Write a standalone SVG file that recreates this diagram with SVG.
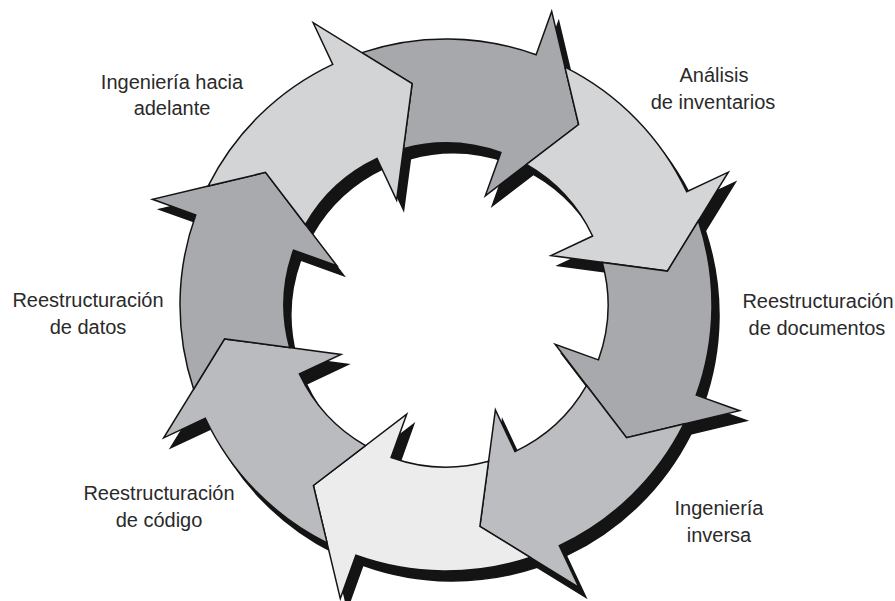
<svg xmlns="http://www.w3.org/2000/svg" width="895" height="601" viewBox="0 0 895 601">
<style>
.lbl{font-family:"Liberation Sans",Arial,sans-serif;font-size:20px;fill:#2a2a2a;text-anchor:middle}
.arr{stroke:#141414;stroke-width:1.5;stroke-linejoin:miter}
.shd{fill:#141414;stroke:#141414;stroke-width:1.5}
</style>
<defs>
<path id="arrow" d="M153.56,-217.2 A266,266 0 0 1 255.05,-75.55 L299.15,-88.61 L224,0 L111.22,-32.95 L155.33,-46.01 A162,162 0 0 0 100.79,-126.83 L158.39,-158.39 Z"/>
</defs>
<rect width="895" height="601" fill="#ffffff"/>
<g id="shadows" class="shd">
<use href="#arrow" transform="translate(453,315) rotate(-53.7)"/>
<use href="#arrow" transform="translate(453,315) rotate(-8.7)"/>
<use href="#arrow" transform="translate(453,315) rotate(36.3)"/>
<use href="#arrow" transform="translate(453,315) rotate(81.3)"/>
<use href="#arrow" transform="translate(453,315) rotate(126.3)"/>
<use href="#arrow" transform="translate(453,315) rotate(171.3)"/>
<use href="#arrow" transform="translate(453,315) rotate(216.3)"/>
<use href="#arrow" transform="translate(453,315) rotate(261.3)"/>
</g>
<g id="connectors">
<g id="arrow-analisis"><use href="#arrow" class="arr" fill="#a7a8ab" transform="translate(446,305) rotate(-53.7)"/></g>
<g id="arrow-doc-in"><use href="#arrow" class="arr" fill="#d4d5d7" transform="translate(446,305) rotate(-8.7)"/></g>
<g id="arrow-doc-out"><use href="#arrow" class="arr" fill="#a8a9ac" transform="translate(446,305) rotate(36.3)"/></g>
<g id="arrow-inversa"><use href="#arrow" class="arr" fill="#bcbdc0" transform="translate(446,305) rotate(81.3)"/></g>
<g id="arrow-codigo-in"><use href="#arrow" class="arr" fill="#ececec" transform="translate(446,305) rotate(126.3)"/></g>
<g id="arrow-codigo-out"><use href="#arrow" class="arr" fill="#babbbe" transform="translate(446,305) rotate(171.3)"/></g>
<g id="arrow-datos"><use href="#arrow" class="arr" fill="#a9aaad" transform="translate(446,305) rotate(216.3)"/></g>
<g id="arrow-adelante"><use href="#arrow" class="arr" fill="#d3d4d6" transform="translate(446,305) rotate(261.3)"/></g>
</g>
<g id="node-adelante" class="lbl"><text x="172" y="89">Ingeniería hacia</text><text x="172" y="115">adelante</text></g>
<g id="node-analisis" class="lbl"><text x="714" y="82">Análisis</text><text x="713" y="109">de inventarios</text></g>
<g id="node-documentos" class="lbl"><text x="818" y="308">Reestructuración</text><text x="817" y="335">de documentos</text></g>
<g id="node-inversa" class="lbl"><text x="719" y="515">Ingeniería</text><text x="719" y="542">inversa</text></g>
<g id="node-codigo" class="lbl"><text x="159" y="500">Reestructuración</text><text x="159" y="527">de código</text></g>
<g id="node-datos" class="lbl"><text x="88" y="307">Reestructuración</text><text x="88" y="334">de datos</text></g>
</svg>
